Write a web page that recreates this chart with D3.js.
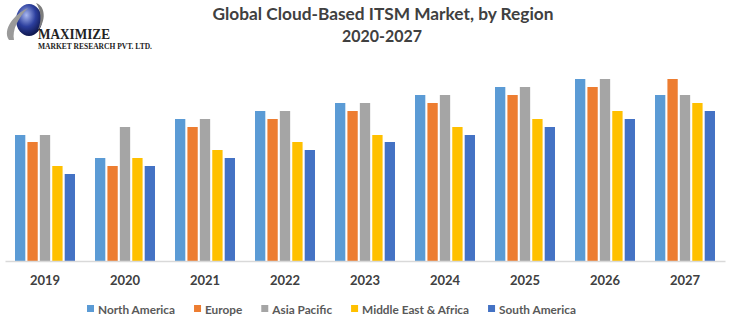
<!DOCTYPE html>
<html>
<head>
<meta charset="utf-8">
<script src="https://cdn.jsdelivr.net/npm/d3@7"></script>
<style>
  body { margin: 0; background: #fff; }
  svg { display: block; }
  text { font-family: Lato, "Open Sans", sans-serif; }
</style>
</head>
<body>
<svg id="chart"></svg>
<script>
// data (USD Bn)
var years = ['2019', '2020', '2021', '2022', '2023', '2024', '2025', '2026', '2027'];
var seriesNames = ['North America', 'Europe', 'Asia Pacific', 'Middle East & Africa', 'South America'];
var northAmerica = [12.6, 10.3, 14.2, 15.0, 15.8, 16.6, 17.4, 18.2, 16.6];
var europe = [11.9, 9.5, 13.4, 14.2, 15.0, 15.8, 16.6, 17.4, 18.2];
var asiaPacific = [12.6, 13.4, 14.2, 15.0, 15.8, 16.6, 17.4, 18.2, 16.6];
var middleEastAfrica = [9.5, 10.3, 11.1, 11.9, 12.6, 13.4, 14.2, 15.0, 15.8];
var southAmerica = [8.7, 9.5, 10.3, 11.1, 11.9, 12.6, 13.4, 14.2, 15.0];
var colors = ['#5b9bd5', '#ed7d31', '#a5a5a5', '#ffc000', '#4472c4'];

var allSeries = [northAmerica, europe, asiaPacific, middleEastAfrica, southAmerica];
var width = 741, height = 322;
var svg = d3.select('#chart').attr('width', width).attr('height', height);

// logo
var logo = svg.append('g');
var grad = svg.append('defs').append('radialGradient').attr('id', 'globe')
    .attr('cx', '40%').attr('cy', '35%').attr('r', '65%');
grad.append('stop').attr('offset', '0%').attr('stop-color', '#a9b8f0');
grad.append('stop').attr('offset', '55%').attr('stop-color', '#2c3f9e');
grad.append('stop').attr('offset', '100%').attr('stop-color', '#10184f');
logo.append('ellipse').attr('cx', 29).attr('cy', 20).attr('rx', 13).attr('ry', 16).attr('fill', 'url(#globe)');
logo.append('path').attr('d', 'M9,40 C2,30 14,14 28,8 C18,18 12,30 14,40 Z').attr('fill', '#9a9a9a');
logo.append('path').attr('d', 'M36,3 C46,6 46,22 38,30 C42,20 41,10 36,3 Z').attr('fill', '#7d7d7d');
logo.append('text').attr('x', 38).attr('y', 39).attr('textLength', 72).attr('lengthAdjust', 'spacingAndGlyphs')
    .style('font-family', '"Liberation Serif", serif').style('font-weight', 'bold').style('font-size', '15px')
    .attr('fill', '#222').text('MAXIMIZE');
logo.append('text').attr('x', 38).attr('y', 49).attr('textLength', 114).attr('lengthAdjust', 'spacingAndGlyphs')
    .style('font-family', '"Liberation Serif", serif').style('font-weight', 'bold').style('font-size', '8.5px')
    .attr('fill', '#222').text('MARKET RESEARCH PVT. LTD.');

// title
svg.append('text').attr('x', 383).attr('y', 20).attr('text-anchor', 'middle')
    .attr('textLength', 341).attr('lengthAdjust', 'spacingAndGlyphs')
    .style('font-size', '17px').style('font-weight', 'bold').attr('fill', '#404040')
    .text('Global Cloud-Based ITSM Market, by Region');
svg.append('text').attr('x', 382).attr('y', 42).attr('text-anchor', 'middle')
    .attr('textLength', 80).attr('lengthAdjust', 'spacingAndGlyphs')
    .style('font-size', '17px').style('font-weight', 'bold').attr('fill', '#404040')
    .text('2020-2027');

// scales
var x0 = d3.scaleBand().domain(years).range([5, 725]).paddingInner(0.25).paddingOuter(0.125);
var x1 = d3.scaleBand().domain(seriesNames).range([0, x0.bandwidth()]).paddingInner(0.17);
var y = d3.scaleLinear().domain([0, 20]).range([261, 61]);

var groups = svg.append('g').selectAll('g').data(years).enter().append('g')
    .attr('transform', function (d) { return 'translate(' + x0(d) + ',0)'; });
groups.selectAll('rect')
    .data(function (d, i) { return seriesNames.map(function (s, j) { return { s: s, v: allSeries[j][i], c: colors[j] }; }); })
    .enter().append('rect')
    .attr('x', function (d) { return x1(d.s); })
    .attr('y', function (d) { return y(d.v); })
    .attr('width', x1.bandwidth())
    .attr('height', function (d) { return y(0) - y(d.v); })
    .attr('fill', function (d) { return d.c; });

// x axis
var xAxis = svg.append('g').attr('transform', 'translate(0,' + y(0) + ')')
    .call(d3.axisBottom(x0).tickSize(0).tickPadding(15));
xAxis.select('.domain').attr('stroke', '#d9d9d9').attr('stroke-width', 1.5);
xAxis.selectAll('text').style('font-family', 'Lato, sans-serif').style('font-size', '13px')
    .style('font-weight', 'bold').attr('fill', '#404040');

// legend
var legend = svg.append('g').attr('transform', 'translate(0,309)');
var lx = 87;
seriesNames.forEach(function (s, i) {
    var item = legend.append('g').attr('transform', 'translate(' + lx + ',0)');
    item.append('rect').attr('x', 0).attr('y', -4).attr('width', 7).attr('height', 7).attr('fill', colors[i]);
    var t = item.append('text').attr('x', 11).attr('y', 4.5)
        .style('font-size', '11.8px').style('font-weight', 'bold').attr('fill', '#595959').text(s);
    lx += 11 + t.node().getComputedTextLength() + 19;
});
</script>
</body>
</html>
